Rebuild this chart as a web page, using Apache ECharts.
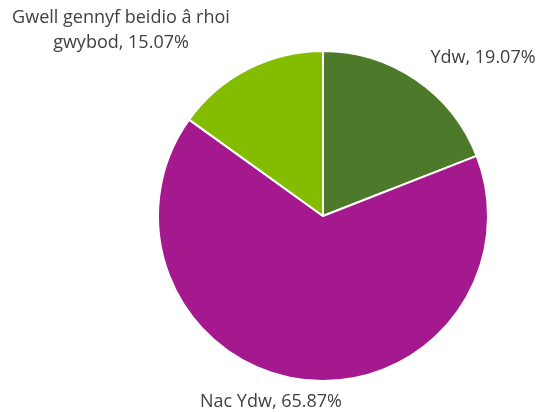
<!DOCTYPE html>
<html>
<head>
<meta charset="utf-8">
<script src="https://cdn.jsdelivr.net/npm/echarts@6/dist/echarts.min.js"></script>
<style>
  html, body { margin: 0; padding: 0; background: #fff; }
  #chart { width: 540px; height: 412px; }
</style>
</head>
<body>
<div id="chart"></div>
<script>
const categories = ['Ydw', 'Nac Ydw', 'Gwell gennyf beidio â rhoi\ngwybod'];
const values = [19.07, 65.87, 15.07];
const colors = ['#4D7A2A', '#A5198F', '#84BC00'];

// label anchor points (x, y) for each slice, in px
const labelSpots = [[483, 58], [271, 402], [121, 30]];

const chart = echarts.init(document.getElementById('chart'));

chart.setOption({
    animation: false,
    series: [
        {
            type: 'pie',
            center: [323, 216],
            radius: 165,
            startAngle: 90,
            clockwise: true,
            data: categories.map((name, i) => ({
                name: name,
                value: values[i],
                itemStyle: { color: colors[i] }
            })),
            itemStyle: {
                borderColor: '#ffffff',
                borderWidth: 2
            },
            label: {
                show: true,
                position: 'outside',
                formatter: p => p.name + ', ' + p.value.toFixed(2) + '%',
                color: '#404040',
                fontSize: 18,
                fontFamily: 'Open Sans',
                lineHeight: 25,
                align: 'center',
                overflow: 'none',
                width: 300
            },
            labelLine: { show: false },
            labelLayout: params => ({
                x: labelSpots[params.dataIndex][0],
                y: labelSpots[params.dataIndex][1],
                align: 'center',
                verticalAlign: 'middle'
            })
        }
    ]
});
</script>
</body>
</html>
